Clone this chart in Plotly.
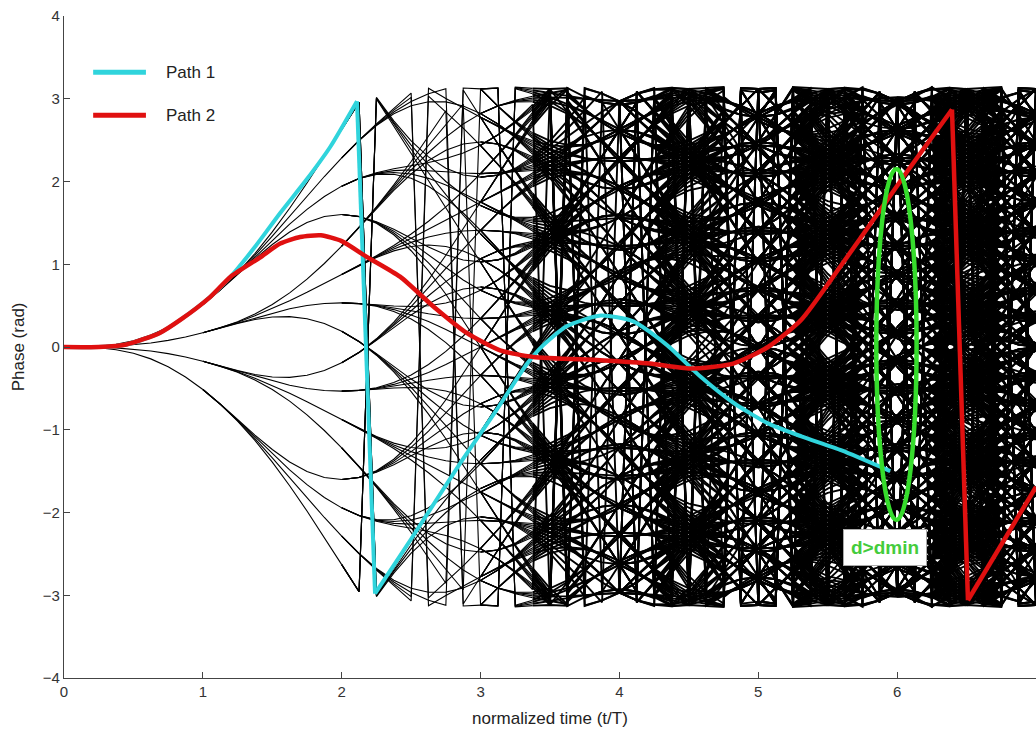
import itertools
import numpy as np
import plotly.graph_objects as go

# ---------------- data ----------------
# trellis of a quaternary 3RC CPM (all symbol sequences)
SYMBOLS = [-3, -1, 1, 3]
MOD_INDEX = 0.279
PULSE_LEN = 3          # symbols
SAMPLES_PER_SYMBOL = 8
N_SYMBOLS = 7
DENSE_FROM = 3.375     # where the trellis becomes dense (drawn heavier)

# Path 1 (cyan)
path1_t = [0.0, 0.25, 0.45, 0.69, 0.84, 1.05, 1.2, 1.38, 1.557, 1.75, 1.918, 2.11,
           2.24, 2.5, 2.855, 3.1, 3.336, 3.45, 3.62, 3.865, 4.10, 4.345, 4.585,
           4.826, 5.066, 5.31, 5.6, 5.95]
path1_phase = [0.0, 0.0, 0.03, 0.17, 0.33, 0.6, 0.85, 1.22, 1.62, 2.03, 2.42, 2.97,
               -2.98, -2.32, -1.4, -0.8, -0.2, 0.02, 0.25, 0.38, 0.31, 0.02, -0.36,
               -0.68, -0.92, -1.08, -1.25, -1.5]

# Path 2 (red)
path2_t = [0.0, 0.25, 0.45, 0.69, 0.84, 1.05, 1.2, 1.41, 1.557, 1.70, 1.85, 2.0,
           2.18, 2.42, 2.66, 2.90, 3.14, 3.38, 3.86, 4.22, 4.51, 4.82, 5.07, 5.31,
           5.59, 5.88, 6.08, 6.395, 6.51, 7.0]
path2_phase = [0.0, 0.0, 0.03, 0.17, 0.33, 0.6, 0.85, 1.08, 1.25, 1.33, 1.35, 1.28,
               1.09, 0.85, 0.49, 0.17, -0.04, -0.12, -0.16, -0.2, -0.26, -0.2, 0.0,
               0.33, 0.97, 1.66, 2.14, 2.87, -3.06, -1.69]

x_ticks = [0, 1, 2, 3, 4, 5, 6, 7]
y_ticks = [-4, -3, -2, -1, 0, 1, 2, 3, 4]

CYAN = "#30d4dc"
RED = "#e01010"
GREEN = "#36dc2c"
font = "Arial, Liberation Sans, sans-serif"

# ---------------- trellis ----------------
def q(t):
    t = np.clip(t, 0, PULSE_LEN)
    return t / (2 * PULSE_LEN) - np.sin(2 * np.pi * t / PULSE_LEN) / (4 * np.pi)

def wrap(p):
    return (p + np.pi) % (2 * np.pi) - np.pi

thin_x, thin_y, thick_x, thick_y = [], [], [], []
for k in range(N_SYMBOLS):
    tt = k + np.arange(SAMPLES_PER_SYMBOL + 1) / SAMPLES_PER_SYMBOL
    first_active = max(0, k - PULSE_LEN + 1)
    active = list(range(first_active, k + 1))
    sums = {0}
    for _ in range(first_active):
        sums = {s + a for s in sums for a in SYMBOLS}
    split = int(np.searchsorted(tt, DENSE_FROM - 1e-9))
    for S in sorted(sums):
        for combo in itertools.product(SYMBOLS, repeat=len(active)):
            ph = wrap(np.pi * MOD_INDEX * S + 2 * np.pi * MOD_INDEX * sum(
                a * q(tt - i) for a, i in zip(combo, active)))
            if split > 0:
                e = min(split + 1, len(tt))
                thin_x.extend(tt[:e].tolist()); thin_x.append(None)
                thin_y.extend(ph[:e].tolist()); thin_y.append(None)
            if split < len(tt) - 1:
                thick_x.extend(tt[split:].tolist()); thick_x.append(None)
                thick_y.extend(ph[split:].tolist()); thick_y.append(None)

fig = go.Figure()
fig.add_trace(go.Scatter(x=thin_x, y=thin_y, mode="lines",
                         line=dict(color="black", width=1.1),
                         hoverinfo="skip", showlegend=False))
fig.add_trace(go.Scatter(x=thick_x, y=thick_y, mode="lines",
                         line=dict(color="black", width=1.9),
                         hoverinfo="skip", showlegend=False))


def add_path(ts, ps, color, width):
    # smooth pieces between phase wraps, straight wrap jumps
    pieces, start = [], 0
    for i in range(1, len(ps)):
        if abs(ps[i] - ps[i - 1]) > np.pi:
            pieces.append((start, i))
            fig.add_trace(go.Scatter(x=[ts[i - 1], ts[i]], y=[ps[i - 1], ps[i]],
                                     mode="lines", line=dict(color=color, width=width),
                                     hoverinfo="skip", showlegend=False))
            start = i
    pieces.append((start, len(ps)))
    for a, b in pieces:
        fig.add_trace(go.Scatter(x=ts[a:b], y=ps[a:b], mode="lines",
                                 line=dict(color=color, width=width, shape="spline",
                                           smoothing=0.6),
                                 hoverinfo="skip", showlegend=False))


add_path(path1_t, path1_phase, CYAN, 4)
add_path(path2_t, path2_phase, RED, 4.5)

# manual legend
fig.add_shape(type="line", x0=0.21, x1=0.59, y0=3.32, y1=3.32,
              line=dict(color=CYAN, width=5))
fig.add_shape(type="line", x0=0.21, x1=0.59, y0=2.80, y1=2.80,
              line=dict(color=RED, width=5))
fig.add_annotation(x=0.72, y=3.32, text="Path 1", showarrow=False, xanchor="left",
                   font=dict(family=font, size=17, color="#222"))
fig.add_annotation(x=0.72, y=2.80, text="Path 2", showarrow=False, xanchor="left",
                   font=dict(family=font, size=17, color="#222"))

# d > dmin ellipse and label
fig.add_shape(type="circle", x0=5.85, x1=6.14, y0=-2.09, y1=2.15,
              line=dict(color=GREEN, width=4.5))
fig.add_annotation(x=5.91, y=-2.42, text="<b>d>dmin</b>", showarrow=False,
                   bgcolor="white", bordercolor="#aaaaaa", borderwidth=1, borderpad=7,
                   font=dict(family=font, size=19, color="#44cc3c"))

# axis titles
fig.add_annotation(xref="paper", yref="paper", x=0.5, y=-0.061, text="normalized time (t/T)",
                   showarrow=False, font=dict(family=font, size=17, color="#222"),
                   yanchor="middle")
fig.add_annotation(xref="paper", yref="paper", x=-0.047, y=0.5, text="Phase (rad)",
                   textangle=-90, showarrow=False,
                   font=dict(family=font, size=17, color="#222"), xanchor="center")

axis_common = dict(showgrid=False, zeroline=False, showline=True, linecolor="#444",
                   linewidth=1.3, ticks="inside", ticklen=6, tickcolor="#444",
                   tickfont=dict(family=font, size=15, color="#333"))
fig.update_xaxes(range=[0, 7], tickvals=x_ticks, **axis_common)
fig.update_yaxes(range=[-4, 4], tickvals=y_ticks, **axis_common)

fig.update_layout(width=1036, height=734, autosize=False,
                  margin=dict(l=64, r=0, t=16, b=56),
                  plot_bgcolor="white", paper_bgcolor="white")
fig.write_html("out.html")
